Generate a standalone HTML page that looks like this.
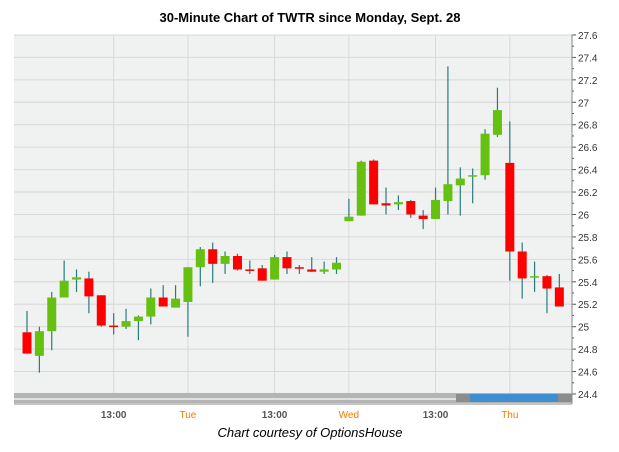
<!DOCTYPE html>
<html><head><meta charset="utf-8"><style>
body{margin:0;background:#fff;width:619px;height:447px;overflow:hidden;font-family:"Liberation Sans",sans-serif}
</style></head><body>
<svg id="c" width="619" height="447" xmlns="http://www.w3.org/2000/svg">
<text x="310" y="22" text-anchor="middle" font-size="13" font-weight="bold" fill="#000">30-Minute Chart of TWTR since Monday, Sept. 28</text>
<rect x="14" y="35" width="558" height="368" fill="#f0f1f1"/>
<g id="grid"></g><g id="candles"></g><g id="axis"></g>
<g>
<rect x="14" y="393" width="558" height="10" fill="#b4b4b4"/>
<rect x="14" y="398" width="558" height="2" fill="#e0e0e0"/>
<rect x="470" y="394" width="92" height="8" fill="#3f8fd0"/>
<rect x="456" y="394" width="14" height="8" fill="#8c8c8c"/>
<rect x="558" y="394" width="14" height="8" fill="#8c8c8c"/>
</g>
<line x1="14" y1="404" x2="572" y2="404" stroke="#888"/>
<text x="310" y="437" text-anchor="middle" font-size="13" font-style="italic" fill="#000">Chart courtesy of OptionsHouse</text>
</svg>
<script>
const opens=[24.95,24.74,24.96,25.26,25.42,25.43,25.28,25.01,25.0,25.05,25.09,25.26,25.17,
25.22,25.53,25.69,25.56,25.63,25.51,25.52,25.42,25.62,25.53,25.51,25.49,25.51,
25.94,25.99,26.48,26.1,26.09,26.12,25.99,25.96,26.12,26.26,26.34,26.35,26.71,
26.46,25.67,25.45,25.45,25.35];
const closes=[24.76,24.96,25.26,25.41,25.44,25.27,25.01,25.0,25.05,25.09,25.26,25.18,25.25,
25.53,25.69,25.56,25.63,25.51,25.5,25.41,25.62,25.52,25.52,25.49,25.51,25.57,
25.98,26.47,26.09,26.08,26.11,26.0,25.96,26.13,26.27,26.32,26.35,26.72,26.93,
25.67,25.43,25.45,25.34,25.18];
const highs=[25.14,25.0,25.31,25.59,25.51,25.49,25.28,25.12,25.16,25.1,25.34,25.37,25.37,
25.53,25.71,25.75,25.67,25.65,25.59,25.55,25.64,25.67,25.55,25.62,25.58,25.62,
26.14,26.48,26.49,26.24,26.17,26.13,26.04,26.24,27.32,26.42,26.41,26.76,27.13,
26.83,25.75,25.58,25.46,25.47];
const lows=[24.76,24.59,24.79,25.26,25.31,25.12,25.0,24.93,24.98,24.88,25.02,25.18,25.17,
24.91,25.36,25.39,25.47,25.5,25.47,25.41,25.42,25.47,25.47,25.49,25.47,25.47,
25.94,25.99,26.09,26.0,26.04,25.97,25.87,25.96,26.0,25.99,26.1,26.31,26.69,
25.41,25.25,25.31,25.12,25.18];
const yTicks=[24.4,24.6,24.8,25,25.2,25.4,25.6,25.8,26,26.2,26.4,26.6,26.8,27,27.2,27.4,27.6];
const xLabels=["13:00","Tue","13:00","Wed","13:00","Thu"];
const xLabelIdx=[7,13,20,26,33,39];
const NS="http://www.w3.org/2000/svg";
const y=v=>394-(v-24.4)*112.2;
const x=i=>27+i*12.38;
function mk(t,a,p){const e=document.createElementNS(NS,t);for(const k in a)e.setAttribute(k,a[k]);p.appendChild(e);return e;}
const grid=document.getElementById('grid'),ax=document.getElementById('axis'),cg=document.getElementById('candles');
yTicks.forEach((v,k)=>{
 if(k>0){const g=mk('line',{x1:14,x2:572,y1:y(v),y2:y(v),stroke:'#d8d8d8'},grid);
 
 }
 mk('line',{x1:572,x2:576,y1:y(v),y2:y(v),stroke:'#555'},ax);
 if(k<yTicks.length-1) mk('line',{x1:572,x2:574,y1:y(v+0.1),y2:y(v+0.1),stroke:'#555'},ax);
 const t=mk('text',{x:578,y:y(v)+4,'font-size':10,fill:'#333'},ax);
 t.textContent=String(v);
 
 
});
mk('line',{x1:572,x2:572,y1:35,y2:404,stroke:'#888'},ax);
xLabels.forEach((s,k)=>{
 const xx=x(xLabelIdx[k]);
 const g=mk('line',{x1:xx,x2:xx,y1:35,y2:393,stroke:'#d8d8d8'},grid);
 
 
 const day=s!=="13:00";
 const t=mk('text',{x:xx,y:418,'text-anchor':'middle','font-size':10,'font-weight':day?'normal':'bold',fill:day?'#f07c00':'#555'},ax);
 t.textContent=s;
 
 
});
opens.forEach((o,i)=>{
 const c=closes[i],up=c>=o,xx=x(i);
 const g=mk('g',{},cg);
 
 
 mk('line',{x1:xx,x2:xx,y1:y(highs[i]),y2:y(lows[i]),stroke:'#2a7c7c','stroke-width':1.2},g);
 const top=y(Math.max(o,c)),h=Math.max(1.5,Math.abs(y(o)-y(c)));
 mk('rect',{x:xx-4.5,y:top,width:9,height:h,fill:up?'#66c010':'#ff0000'},g);
});
</script>
</body></html>
